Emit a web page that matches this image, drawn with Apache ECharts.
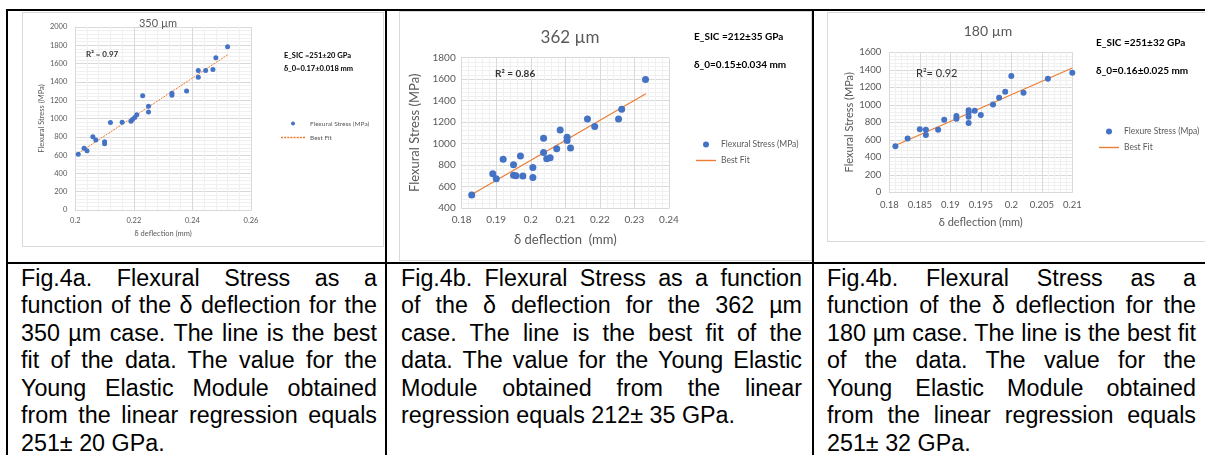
<!DOCTYPE html>
<html><head><meta charset="utf-8">
<script src="https://cdn.jsdelivr.net/npm/echarts@6/dist/echarts.min.js"></script>
<style>
html,body{margin:0;padding:0;background:#fff;width:1205px;height:455px;overflow:hidden;position:relative}
.b{position:absolute;background:#000}
.box{position:absolute;border:1px solid #d9d9d9;box-sizing:border-box;background:#fff}
.ch{position:absolute;left:0;top:0;width:100%;height:100%}
.cap{position:absolute;font-family:"Liberation Sans",Arial,sans-serif;font-size:23.3px;line-height:27.6px;color:#000}
.cap div{text-align:justify;text-align-last:justify}
.cap div.l{text-align:left;text-align-last:left}
</style>
</head><body>
<div class="box" id="box1" style="left:22px;top:12px;width:362px;height:235px"><div class="ch" id="c1"></div></div>
<div class="box" id="box2" style="left:399px;top:11px;width:413px;height:250px"><div class="ch" id="c2"></div></div>
<div class="box" id="box3" style="left:827px;top:12px;width:400px;height:230px"><div class="ch" id="c3"></div></div>

<div class="b" style="left:6px;top:9px;width:1199px;height:2px"></div>
<div class="b" style="left:6px;top:9px;width:2px;height:446px"></div>
<div class="b" style="left:385px;top:9px;width:2px;height:446px"></div>
<div class="b" style="left:812px;top:9px;width:2px;height:446px"></div>
<div class="b" style="left:6px;top:262px;width:1199px;height:2px"></div>

<div class="cap" id="cap1" style="left:21px;top:264.5px;width:356px"></div>
<div class="cap" id="cap2" style="left:401px;top:264.5px;width:401px"></div>
<div class="cap" id="cap3" style="left:827px;top:264.5px;width:369px"></div>

<script>
// ---- data: 350 µm ----
const x350 = [0.201,0.203,0.204,0.206,0.207,0.210,0.210,0.212,0.216,0.219,0.2195,0.2203,0.221,0.223,0.225,0.225,0.233,0.233,0.238,0.242,0.242,0.2445,0.247,0.248,0.252];
const y350 = [610,675,648,800,765,745,725,955,960,970,990,1010,1040,1250,1135,1070,1275,1255,1300,1525,1450,1525,1535,1665,1785];
const fit350X = [0.201, 0.252];
const fit350Y = [620, 1695];
// ---- data: 362 µm ----
const x362 = [0.1829,0.189,0.190,0.192,0.195,0.195,0.1957,0.197,0.1977,0.2006,0.2006,0.2037,0.2037,0.2046,0.2056,0.2075,0.2085,0.2105,0.2105,0.2115,0.2164,0.2185,0.2254,0.2263,0.2332];
const y362 = [520,718,672,853,804,706,700,884,697,777,685,1049,918,859,869,951,1126,1058,1028,960,1230,1160,1230,1319,1598];
const fit362X = [0.1829, 0.2333];
const fit362Y = [525, 1465];
// ---- data: 180 µm ----
const x180 = [0.181,0.183,0.185,0.186,0.186,0.188,0.189,0.191,0.191,0.193,0.193,0.193,0.193,0.194,0.195,0.197,0.198,0.199,0.200,0.202,0.206,0.210];
const y180 = [525,616,720,714,655,714,830,871,841,939,909,864,793,931,883,1003,1082,1149,1330,1138,1299,1367];
const fit180X = [0.1808, 0.2100];
const fit180Y = [530, 1420];

// ---- texts ----
const titles = ['350 µm', '362 µm', '180 µm'];
const r2Texts = ['R² = 0.97', 'R² = 0.86', 'R²= 0.92'];
const eTexts = ['E_SIC =251±20 GPa', 'E_SIC =212±35 GPa', 'E_SIC =251±32 GPa'];
const dTexts = ['δ_0=0.17±0.018 mm', 'δ_0=0.15±0.034 mm', 'δ_0=0.16±0.025 mm'];
const scatterNames = ['Flexural Stress (MPa)', 'Flexural Stress (MPa)', 'Flexure Stress (Mpa)'];
const yNames = ['Flexural Stress (MPa)', 'Flexural Stress (MPa)', 'Flexural Stress (MPa)'];
const xNames = ['δ deflection (mm)', 'δ deflection  (mm)', 'δ deflection (mm)'];
const caption1 = ['Fig.4a. Flexural Stress as a','function of the δ deflection for the','350 µm case. The line is the best','fit of the data. The value for the','Young Elastic Module obtained','from the linear regression equals','251± 20 GPa.'];
const caption2 = ['Fig.4b. Flexural Stress as a function','of the δ deflection for the 362 µm','case. The line is the best fit of the','data. The value for the Young Elastic','Module obtained from the linear','regression equals 212± 35 GPa.'];
const caption3 = ['Fig.4b. Flexural Stress as a','function of the δ deflection for the','180 µm case. The line is the best fit','of the data. The value for the','Young Elastic Module obtained','from the linear regression equals','251± 32 GPa.'];

function fillCap(id, lines){
  const el = document.getElementById(id);
  lines.forEach((t,i)=>{
    const d = document.createElement('div');
    d.textContent = t;
    if(i === lines.length-1) d.className = 'l';
    el.appendChild(d);
  });
}
fillCap('cap1', caption1); fillCap('cap2', caption2); fillCap('cap3', caption3);

const FONT = 'Lato, sans-serif';
const GRAY = '#595959';
const ORANGE = '#ED7D31';
const BLUE = '#4472C4';

function pairs(xs, ys){ return xs.map((x,i)=>[x, ys[i]]); }
function lineIcon(w, dash, t){
  if(!dash) return 'path://M0,0H' + w + 'V' + t + 'H0Z';
  let p = 'path://';
  for(let x = 0; x < w; x += dash[0] + dash[1]){
    const e = Math.min(w, x + dash[0]);
    p += 'M' + x + ',0H' + e + 'V' + t + 'H' + x + 'Z';
  }
  return p;
}
const fmt = v => String(+(+v).toFixed(4));

function build(id, k, xs, ys, fx, fy, L){
  const chart = echarts.init(document.getElementById(id), null, {renderer:'canvas'});
  const axisCommon = (fs, margin) => ({
    type:'value',
    axisLine:{show:true, lineStyle:{color:'#d9d9d9'}},
    axisTick:{show:false},
    axisLabel:{fontSize:fs, color:GRAY, margin:margin, fontFamily:FONT, formatter:fmt},
    splitLine:{show:true, lineStyle:{color:'#d9d9d9', width:1}},
    minorTick:{show:false, splitNumber:5},
    minorSplitLine:{show:true, lineStyle:{color:'#f0f0f0', width:1}},
    nameLocation:'middle',
    nameTextStyle:{fontSize:L.nameFs, color:GRAY, fontFamily:FONT}
  });
  chart.setOption({
    animation:false,
    textStyle:{fontFamily:FONT},
    grid:{left:L.grid[0], right:L.grid[1], top:L.grid[2], bottom:L.grid[3], containLabel:false},
    xAxis:Object.assign(axisCommon(L.tickFs, L.xMargin), {min:L.xMin, max:L.xMax, interval:L.xInt, name:xNames[k], nameGap:L.xGap}),
    yAxis:Object.assign(axisCommon(L.tickFs, L.yMargin), {min:L.yMin, max:L.yMax, interval:L.yInt, name:yNames[k], nameGap:L.yGap}),
    legend:{
      orient:'vertical', left:L.leg[0], top:L.leg[1], padding:0, itemWidth:L.legW, itemHeight:L.legH, itemGap:L.legGap,
      textStyle:{fontSize:L.legFs, color:GRAY, fontFamily:FONT},
      data:[
        {name:scatterNames[k], icon:'circle', itemStyle:{color:BLUE, borderWidth:0}},
        {name:'Best Fit', icon:lineIcon(L.legW, L.legDash, L.legT), itemStyle:{color:ORANGE, borderWidth:0, opacity:1}}
      ]
    },
    graphic:[
      {type:'text', z:100, x:L.title[0], y:L.title[1], style:{text:titles[k], fill:GRAY, font:L.titleFs+'px '+FONT, align:'center', verticalAlign:'middle'}},
      {type:'text', z:100, x:L.r2[0], y:L.r2[1], style:{text:r2Texts[k], fill:'#333', font:(L.r2Bold?'bold ':'')+L.r2Fs+'px '+FONT, align:'left', verticalAlign:'middle'}},
      {type:'text', z:100, x:L.e[0], y:L.e[1], style:{text:eTexts[k], fill:'#000', font:'bold '+L.eFs+'px '+FONT, align:'left', verticalAlign:'middle'}},
      {type:'text', z:100, x:L.e[0], y:L.e[2], style:{text:dTexts[k], fill:'#000', font:'bold '+L.eFs+'px '+FONT, align:'left', verticalAlign:'middle'}}
    ],
    series:[
      {type:'line', name:'Best Fit', data:pairs(fx, fy), symbol:'none', z:2,
       lineStyle:{color:ORANGE, width:L.lineW, type:L.lineType}, itemStyle:{color:ORANGE}},
      {type:'scatter', name:scatterNames[k], data:pairs(xs, ys), symbolSize:L.sym, z:3,
       itemStyle:{color:BLUE, opacity:1}}
    ]
  });
}

build('c1', 0, x350, y350, fit350X, fit350Y, {
  grid:[46,132,14,36], xMin:0.2, xMax:0.26, xInt:0.02, yMin:0, yMax:2000, yInt:200,
  tickFs:7.5, xMargin:7, yMargin:8, nameFs:7.5, xGap:18, yGap:30,
  title:[135,10], titleFs:11, r2:[63,41], r2Fs:8, r2Bold:true, e:[261,43,56], eFs:7.5,
  leg:[258,107], legW:24, legH:4, legGap:7, legFs:6.5, legDash:[2,1], legT:1.4, sym:5, lineW:1, lineType:[2,1]
});
build('c2', 1, x362, y362, fit362X, fit362Y, {
  grid:[61.7,142,45.7,52], xMin:0.18, xMax:0.24, xInt:0.01, yMin:400, yMax:1800, yInt:200,
  tickFs:10, xMargin:7, yMargin:6, nameFs:13, xGap:25, yGap:21,
  title:[170,26], titleFs:17, r2:[95,62], r2Fs:10, r2Bold:true, e:[294,25,53], eFs:10,
  leg:[296,128], legW:20, legH:6, legGap:7, legFs:8.5, legDash:null, legT:1.4, sym:7, lineW:1.2, lineType:'solid'
});
build('c3', 2, x180, y180, fit180X, fit180Y, {
  grid:[61.3,153.7,39.3,48.7], xMin:0.18, xMax:0.21, xInt:0.005, yMin:0, yMax:1600, yInt:200,
  tickFs:9.5, xMargin:8, yMargin:8, nameFs:11, xGap:25, yGap:30,
  title:[160,18], titleFs:14, r2:[88,60], r2Fs:11, r2Bold:false, e:[268,30,58], eFs:10,
  leg:[271,114], legW:20, legH:6, legGap:7, legFs:8.5, legDash:null, legT:1.4, sym:6, lineW:1.2, lineType:'solid'
});
</script>
</body></html>
